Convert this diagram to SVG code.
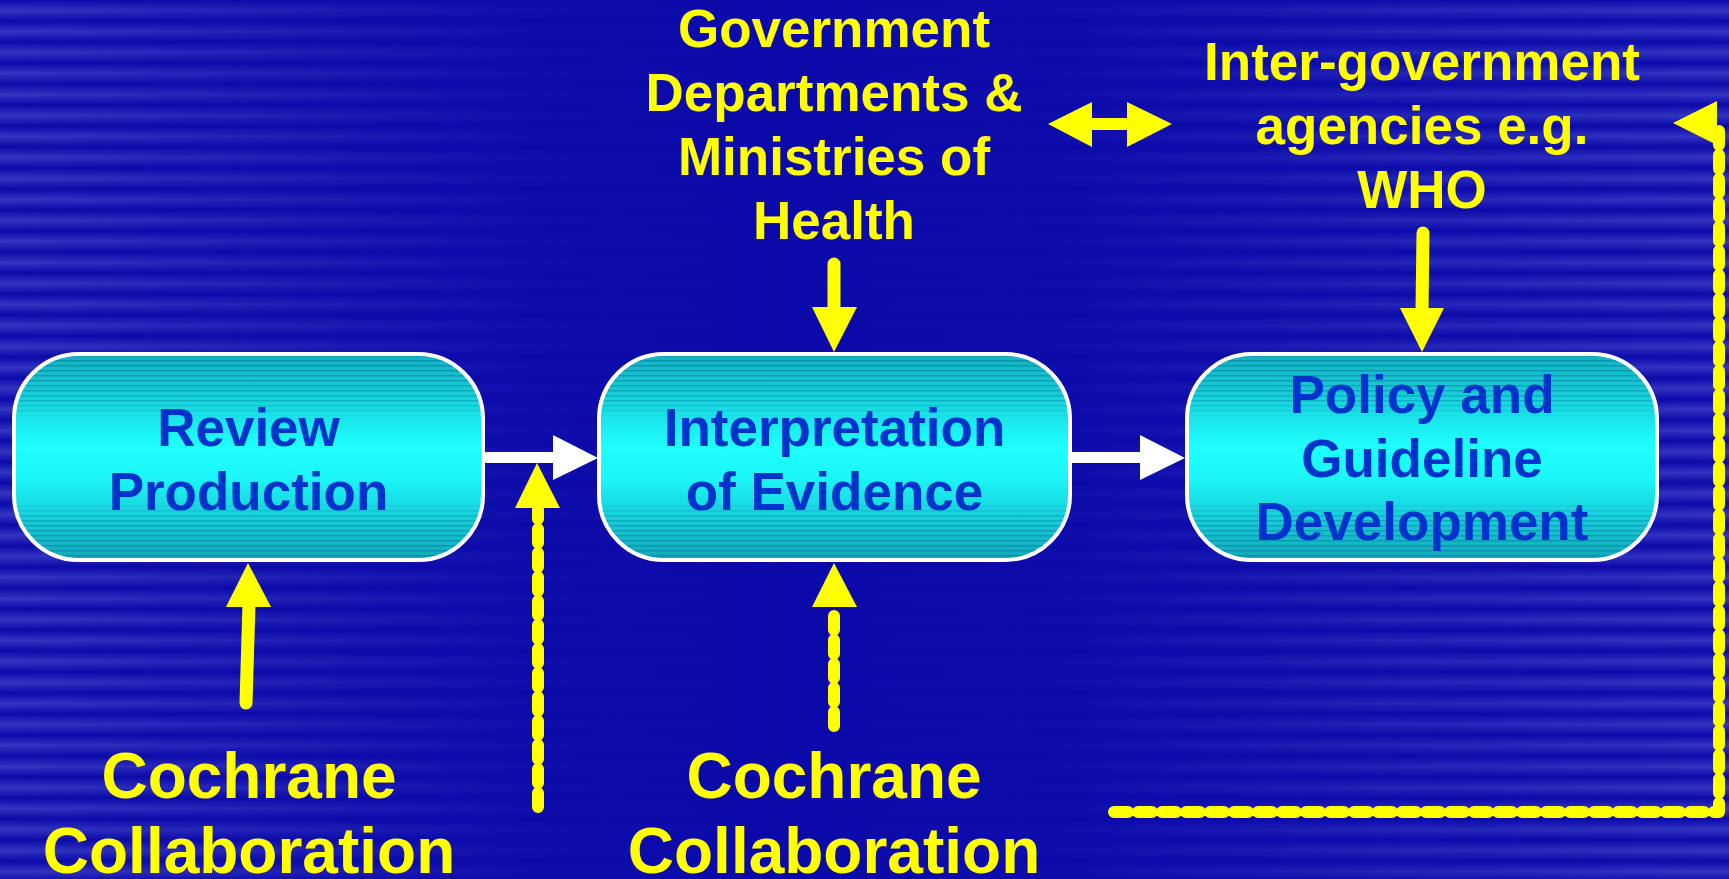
<svg xmlns="http://www.w3.org/2000/svg" width="1729" height="879" viewBox="0 0 1729 879">
<defs>
<style>
.box{fill:url(#boxGrad);stroke:#ffffff;stroke-width:4}
.boxlines{fill:url(#boxLines)}
.btxt{font-family:"Liberation Sans",Arial,sans-serif;font-weight:bold;font-size:53px;fill:#0033cc;text-anchor:middle}
.ytxt{font-family:"Liberation Sans",Arial,sans-serif;font-weight:bold;font-size:53px;fill:#ffff00;text-anchor:middle}
.ylg{font-size:64px}
.dash{fill:none;stroke:#ffff00;stroke-width:12;stroke-linecap:round;stroke-linejoin:round;stroke-dasharray:14 10}
.ysolid{fill:none;stroke:#ffff00;stroke-width:13;stroke-linecap:round}
.yhead{fill:#ffff00}
.wsolid{fill:none;stroke:#ffffff;stroke-width:11;stroke-linecap:round}
.whead{fill:#ffffff}
</style>
<linearGradient id="stripeGrad" x1="0" y1="0" x2="0" y2="1">
<stop offset="0" stop-color="#0c0aa9"/>
<stop offset="0.5" stop-color="#3a3ec6"/>
<stop offset="1" stop-color="#0c0aa9"/>
</linearGradient>
<pattern id="bgStripes" width="20" height="21" patternUnits="userSpaceOnUse">
<rect width="20" height="21" fill="url(#stripeGrad)"/>
</pattern>
<linearGradient id="bgMaskGrad" x1="0" y1="0" x2="1" y2="0">
<stop offset="0" stop-color="#fff" stop-opacity="0.85"/>
<stop offset="0.12" stop-color="#fff" stop-opacity="0.55"/>
<stop offset="0.3" stop-color="#fff" stop-opacity="0.12"/>
<stop offset="0.45" stop-color="#fff" stop-opacity="0"/>
<stop offset="0.62" stop-color="#fff" stop-opacity="0.1"/>
<stop offset="0.8" stop-color="#fff" stop-opacity="0.5"/>
<stop offset="1" stop-color="#fff" stop-opacity="0.85"/>
</linearGradient>
<mask id="bgMask" maskUnits="userSpaceOnUse" x="0" y="0" width="1729" height="879">
<rect width="1729" height="879" fill="url(#bgMaskGrad)"/>
</mask>
<linearGradient id="boxGrad" x1="0" y1="0" x2="0" y2="1">
<stop offset="0" stop-color="#12b0bf"/>
<stop offset="0.2" stop-color="#17cfd9"/>
<stop offset="0.45" stop-color="#1effff"/>
<stop offset="0.6" stop-color="#1cf6f8"/>
<stop offset="0.8" stop-color="#17cdd8"/>
<stop offset="1" stop-color="#10a8b8"/>
</linearGradient>
<pattern id="boxLines" width="10" height="5" patternUnits="userSpaceOnUse">
<rect width="10" height="1.5" fill="#0a86a6"/>
</pattern>
<linearGradient id="edgeGrad" x1="0" y1="0" x2="0" y2="1">
<stop offset="0" stop-color="#fff" stop-opacity="0.8"/>
<stop offset="0.22" stop-color="#fff" stop-opacity="0.45"/>
<stop offset="0.3" stop-color="#fff" stop-opacity="0"/>
<stop offset="0.72" stop-color="#fff" stop-opacity="0"/>
<stop offset="0.8" stop-color="#fff" stop-opacity="0.45"/>
<stop offset="1" stop-color="#fff" stop-opacity="0.8"/>
</linearGradient>
<mask id="edgeMask" maskContentUnits="objectBoundingBox">
<rect width="1" height="1" fill="url(#edgeGrad)"/>
</mask>
</defs>

<g id="background">
<rect width="1729" height="879" fill="#0c0aa9"/>
<rect width="1729" height="879" fill="url(#bgStripes)" mask="url(#bgMask)"/>
</g>

<g id="node-review">
<rect class="box" x="14" y="354" width="469" height="206" rx="65"/>
<rect class="boxlines" x="16" y="356" width="465" height="202" rx="63" mask="url(#edgeMask)"/>
<text class="btxt" x="248.5" y="446">Review</text>
<text class="btxt" x="248.5" y="510">Production</text>
</g>

<g id="node-interpretation">
<rect class="box" x="599" y="354" width="471" height="206" rx="65"/>
<rect class="boxlines" x="601" y="356" width="467" height="202" rx="63" mask="url(#edgeMask)"/>
<text class="btxt" x="834.5" y="446">Interpretation</text>
<text class="btxt" x="834.5" y="510">of Evidence</text>
</g>

<g id="node-policy">
<rect class="box" x="1187" y="354" width="470" height="206" rx="65"/>
<rect class="boxlines" x="1189" y="356" width="466" height="202" rx="63" mask="url(#edgeMask)"/>
<text class="btxt" x="1422" y="413">Policy and</text>
<text class="btxt" x="1422" y="477">Guideline</text>
<text class="btxt" x="1422" y="540">Development</text>
</g>

<g id="node-government">
<text class="ytxt" x="834" y="47">Government</text>
<text class="ytxt" x="834" y="111">Departments &amp;</text>
<text class="ytxt" x="834" y="175">Ministries of</text>
<text class="ytxt" x="834" y="239">Health</text>
</g>

<g id="node-intergov">
<text class="ytxt" x="1422" y="80">Inter-government</text>
<text class="ytxt" x="1422" y="144">agencies e.g.</text>
<text class="ytxt" x="1422" y="208">WHO</text>
</g>

<g id="node-cochrane-left">
<text class="ytxt ylg" x="249" y="798">Cochrane</text>
<text class="ytxt ylg" x="249" y="873">Collaboration</text>
</g>

<g id="node-cochrane-middle">
<text class="ytxt ylg" x="834" y="798">Cochrane</text>
<text class="ytxt ylg" x="834" y="873">Collaboration</text>
</g>

<g id="connectors">
<line class="wsolid" x1="487" y1="457.5" x2="556" y2="457.5"/>
<polygon class="whead" points="553,435 598,458 553,480"/>
<line class="wsolid" x1="1073" y1="457.5" x2="1143" y2="457.5"/>
<polygon class="whead" points="1140,435 1185,458 1140,480"/>
<line class="ysolid" x1="246" y1="703" x2="249" y2="604"/>
<polygon class="yhead" points="248,563 226,607 271,607"/>
<path class="dash" d="M834,726 V612"/>
<polygon class="yhead" points="834,563 812,607 857,607"/>
<path class="dash" d="M538,807 V510"/>
<polygon class="yhead" points="537,463 515,508 560,508"/>
<line class="ysolid" x1="834" y1="264" x2="834" y2="310"/>
<polygon class="yhead" points="834,352 812,307 857,307"/>
<line class="ysolid" x1="1423" y1="233" x2="1422" y2="311"/>
<polygon class="yhead" points="1422,352 1400,308 1444,308"/>
<polygon class="yhead" points="1048,124 1092,102 1092,118 1127,118 1127,102 1172,124 1127,147 1127,130 1092,130 1092,147"/>
<path class="dash" d="M1114,812 H1719 V126"/>
<polygon class="yhead" points="1673,123 1717,101 1717,145"/>
</g>
</svg>
